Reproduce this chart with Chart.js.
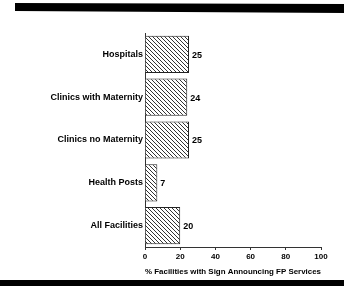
<!DOCTYPE html>
<html>
<head>
<meta charset="utf-8">
<script src="https://cdn.jsdelivr.net/npm/chart.js@4.4.0/dist/chart.umd.min.js"></script>
<style>
  body { margin: 0; background: #fff; }
</style>
</head>
<body>
<canvas id="myChart" width="344" height="286"></canvas>
<script>
// chart data
var categories = ["Hospitals", "Clinics with Maternity", "Clinics no Maternity", "Health Posts", "All Facilities"];
var values = [25, 24, 25, 7, 20];
var xTicks = [0, 20, 40, 60, 80, 100];
var xTitle = "% Facilities with Sign Announcing FP Services";

// diagonal hatch fill for the bars
function makeHatch() {
  var c = document.createElement("canvas");
  c.width = 4;
  c.height = 4;
  var g = c.getContext("2d");
  g.fillStyle = "#fff";
  g.fillRect(0, 0, 4, 4);
  g.strokeStyle = "#333";
  g.lineWidth = 1;
  g.beginPath();
  g.moveTo(-1, -1); g.lineTo(5, 5);
  g.moveTo(-1, 3); g.lineTo(1, 5);
  g.moveTo(3, -1); g.lineTo(5, 1);
  g.stroke();
  return g.createPattern(c, "repeat");
}

// black bands at top and bottom of the figure
var bandsPlugin = {
  id: "bands",
  beforeDraw: function (chart) {
    var ctx = chart.ctx;
    ctx.save();
    ctx.fillStyle = "#fff";
    ctx.fillRect(0, 0, chart.width, chart.height);
    ctx.fillStyle = "#000";
    ctx.beginPath();
    ctx.moveTo(15, 3);
    ctx.lineTo(344, 4);
    ctx.lineTo(344, 13);
    ctx.lineTo(15, 11);
    ctx.closePath();
    ctx.fill();
    ctx.fillRect(0, 280, 344, 6);
    ctx.restore();
  }
};

// value labels right of each bar
var valueLabels = {
  id: "valueLabels",
  afterDatasetsDraw: function (chart) {
    var ctx = chart.ctx;
    var meta = chart.getDatasetMeta(0);
    ctx.save();
    ctx.font = "bold 9px 'Liberation Sans', Arial, sans-serif";
    ctx.fillStyle = "#000";
    ctx.textBaseline = "middle";
    meta.data.forEach(function (bar, i) {
      ctx.fillText(values[i], bar.x + 3, bar.y + 1);
    });
    ctx.restore();
  }
};

var ctx = document.getElementById("myChart").getContext("2d");
var myChart = new Chart(ctx, {
  type: "bar",
  data: {
    labels: categories,
    datasets: [{
      data: values,
      backgroundColor: makeHatch(),
      borderColor: "#222",
      borderWidth: 1,
      borderSkipped: "left",
      categoryPercentage: 0.87,
      barPercentage: 1
    }]
  },
  options: {
    indexAxis: "y",
    responsive: false,
    animation: false,
    layout: { padding: { top: 33, right: 23, left: 0, bottom: 9 } },
    plugins: {
      legend: { display: false },
      tooltip: { enabled: false }
    },
    scales: {
      x: {
        min: 0,
        max: 100,
        afterBuildTicks: function (scale) {
          scale.ticks = xTicks.map(function (v) { return { value: v }; });
        },
        afterFit: function (scale) { scale.height = 30; },
        grid: { display: true, drawOnChartArea: false, tickLength: 3, color: "#333" },
        border: { display: true, color: "#333", width: 1 },
        ticks: {
          color: "#000",
          padding: 2,
          maxRotation: 0,
          font: { family: "'Liberation Sans', Arial, sans-serif", size: 8, weight: "bold" }
        },
        title: {
          display: true,
          text: xTitle,
          color: "#000",
          padding: { top: 4, bottom: 0 },
          font: { family: "'Liberation Sans', Arial, sans-serif", size: 8, weight: "bold" }
        }
      },
      y: {
        afterFit: function (scale) { scale.width = 145; },
        grid: { display: false, drawTicks: false },
        border: { display: true, color: "#333", width: 1 },
        ticks: {
          color: "#000",
          padding: 2,
          font: { family: "'Liberation Sans', Arial, sans-serif", size: 9, weight: "bold" }
        }
      }
    }
  },
  plugins: [bandsPlugin, valueLabels]
});
</script>
</body>
</html>
